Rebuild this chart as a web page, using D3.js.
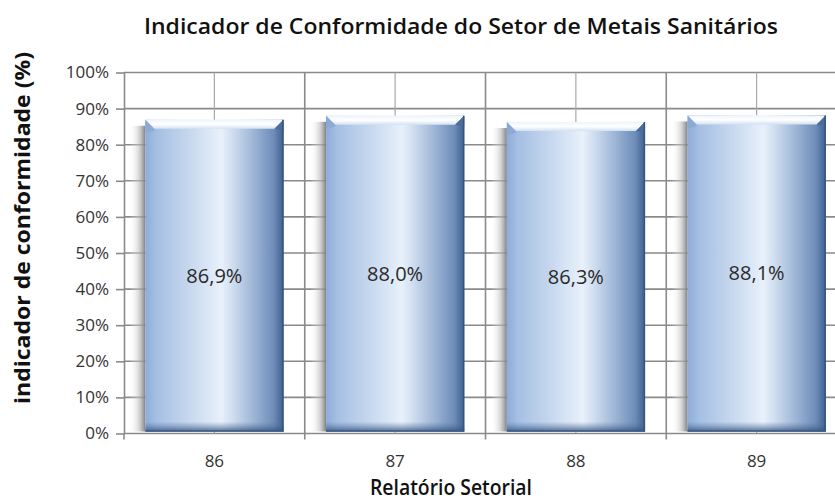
<!DOCTYPE html>
<html><head><meta charset="utf-8">
<script src="https://cdn.jsdelivr.net/npm/d3@7"></script>
<style>body{margin:0;background:#fff}svg{display:block}</style>
</head><body>
<svg id="chart" width="835" height="500"></svg>
<script>
const categories = ["86", "87", "88", "89"];
const values = [0.869, 0.880, 0.863, 0.881];
const valueLabels = ["86,9%", "88,0%", "86,3%", "88,1%"];
const yTicks = [0, 0.1, 0.2, 0.3, 0.4, 0.5, 0.6, 0.7, 0.8, 0.9, 1.0];
const titleText = "Indicador de Conformidade do Setor de Metais Sanitários";
const yTitle = "indicador de conformidade (%)";
const xTitle = "Relatório Setorial";

const svg = d3.select("#chart");
const W = 835, H = 500;
const m = {left:124, top:72.5, bottom:433.5};
const plotRight = 847;

const x = d3.scaleBand().domain(categories).range([m.left, plotRight]).paddingInner(0.236).paddingOuter(0.118);
const y = d3.scaleLinear().domain([0,1]).range([m.bottom, m.top]);
const step = x.step();

const defs = svg.append("defs");
const g1 = defs.append("linearGradient").attr("id","barGrad").attr("x1","0").attr("x2","1").attr("y1","0").attr("y2","0");
[[0,"#8eacd8"],[0.08,"#a5bfe3"],[0.35,"#cbdbf0"],[0.55,"#e8f1fb"],[0.62,"#d3e0f1"],[0.8,"#98b1d3"],[0.93,"#6d8cb8"],[1,"#3f5f8d"]]
  .forEach(([o,c])=>g1.append("stop").attr("offset",o).attr("stop-color",c));
const gTop = defs.append("linearGradient").attr("id","topGrad").attr("x1","0").attr("x2","0").attr("y1","0").attr("y2","1");
[[0,"#eef4fb"],[0.5,"#ffffff"],[1,"#d3e1f2"]].forEach(([o,c])=>gTop.append("stop").attr("offset",o).attr("stop-color",c));
const gShadow = defs.append("linearGradient").attr("id","shadowGrad").attr("x1","0").attr("x2","1").attr("y1","0").attr("y2","0");
[[0,"#ffffff",0],[0.6,"#bdbdbd",0.6],[1,"#7a7a7a",0.95]].forEach(([o,c,a])=>gShadow.append("stop").attr("offset",o).attr("stop-color",c).attr("stop-opacity",a));
const gBottom = defs.append("linearGradient").attr("id","botGrad").attr("x1","0").attr("x2","0").attr("y1","0").attr("y2","1");
[[0,"#5b7aa6",0],[1,"#2f4d78",0.8]].forEach(([o,c,a])=>gBottom.append("stop").attr("offset",o).attr("stop-color",c).attr("stop-opacity",a));

// gridlines
const grid = svg.append("g");
grid.selectAll("line.h").data(yTicks.slice(1)).join("line")
  .attr("x1", m.left).attr("x2", W).attr("y1", d=>y(d)).attr("y2", d=>y(d))
  .attr("stroke","#8a8a8a").attr("stroke-width",1.6);
const bounds = categories.map((c,i)=>m.left + i*step).concat([m.left+categories.length*step]);
grid.selectAll("line.vb").data(bounds.slice(1)).join("line")
  .attr("x1", d=>d).attr("x2", d=>d).attr("y1", m.top).attr("y2", m.bottom)
  .attr("stroke","#8a8a8a").attr("stroke-width",1.6);
grid.selectAll("line.vc").data(categories).join("line")
  .attr("x1", d=>x(d)+x.bandwidth()/2).attr("x2", d=>x(d)+x.bandwidth()/2).attr("y1", m.top).attr("y2", m.bottom)
  .attr("stroke","#a8a8a8").attr("stroke-width",1.2);

// bars
const bars = svg.append("g").selectAll("g").data(categories).join("g");
bars.each(function(c,i){
  const gb = d3.select(this);
  const x0 = x(c), bw = x.bandwidth(), yt = y(values[i]), yb = y(0) - 2;
  gb.append("rect").attr("x", x0-16).attr("y", yt+6).attr("width",16).attr("height", yb-yt-6).attr("fill","url(#shadowGrad)");
  gb.append("rect").attr("x", x0).attr("y", yt).attr("width", bw).attr("height", yb-yt).attr("fill","url(#barGrad)");
  gb.append("rect").attr("x", x0).attr("y", yb-10).attr("width", bw).attr("height", 10).attr("fill","url(#botGrad)");
  const bev = 9;
  gb.append("path").attr("d", `M${x0},${yt} L${x0+bw},${yt} L${x0+bw-bev},${yt+bev} L${x0+bev},${yt+bev} Z`).attr("fill","url(#topGrad)");
  gb.append("path").attr("d", `M${x0},${yt} L${x0+bev},${yt+bev} L${x0+bev},${yt+bev+2} L${x0},${yt+bev+4} Z`).attr("fill","#8aa8d2").attr("opacity",0.8);
  gb.append("path").attr("d", `M${x0+bw},${yt} L${x0+bw-bev},${yt+bev} L${x0+bw},${yt+bev+2} Z`).attr("fill","#4c6d9b");
  gb.append("line").attr("x1", x0+bw-0.5).attr("x2", x0+bw-0.5).attr("y1", yt).attr("y2", yb).attr("stroke","#34557f").attr("stroke-width",1.5);
  gb.append("line").attr("x1", x0).attr("x2", x0+bw).attr("y1", yb-0.5).attr("y2", yb-0.5).attr("stroke","#3d5a85").attr("stroke-width",1.5);
  gb.append("text").attr("x", x0+bw/2).attr("y", (yt+yb)/2).attr("dy","0.35em")
    .attr("text-anchor","middle").attr("font-family","'Open Sans', sans-serif").attr("font-size",20)
    .attr("fill","#2a2a2a").text(valueLabels[i]);
});

// y axis
const yAxis = svg.append("g").attr("transform",`translate(${m.left},0)`)
  .call(d3.axisLeft(y).tickValues(yTicks).tickFormat(d=>Math.round(d*100)+"%").tickSize(8).tickSizeOuter(0));
yAxis.select(".domain").attr("stroke","#8a8a8a").attr("stroke-width",1.6);
yAxis.selectAll(".tick line").attr("stroke","#8a8a8a").attr("stroke-width",1.6);
yAxis.selectAll(".tick text").attr("font-family","'Open Sans', sans-serif").attr("font-size",17).attr("fill","#333").attr("x",-15);

// x axis
const xAxisG = svg.append("g").attr("transform",`translate(0,${m.bottom})`);
xAxisG.append("line").attr("x1", m.left).attr("x2", W).attr("y1",0).attr("y2",0).attr("stroke","#8a8a8a").attr("stroke-width",1.6);
xAxisG.selectAll("line.t").data(bounds).join("line").attr("x1",d=>d).attr("x2",d=>d).attr("y1",0).attr("y2",6).attr("stroke","#8a8a8a").attr("stroke-width",1.6);
xAxisG.selectAll("text").data(categories).join("text")
  .attr("x", d=>x(d)+x.bandwidth()/2).attr("y", 33).attr("text-anchor","middle")
  .attr("font-family","'Open Sans', sans-serif").attr("font-size",17).attr("fill","#333").text(d=>d);

// titles
svg.append("text").attr("x", 144).attr("y", 34).attr("text-anchor","start")
  .attr("font-family","'Open Sans', sans-serif").attr("font-weight",600).attr("font-size",21)
  .attr("textLength",634).attr("lengthAdjust","spacingAndGlyphs").attr("fill","#111").text(titleText);
svg.append("text").attr("transform","translate(30,228) rotate(-90)").attr("text-anchor","middle")
  .attr("font-family","'Open Sans', sans-serif").attr("font-weight",700).attr("font-size",21)
  .attr("textLength",352).attr("lengthAdjust","spacingAndGlyphs").attr("fill","#111").text(yTitle);
svg.append("text").attr("x", 370).attr("y", 495).attr("text-anchor","start")
  .attr("font-family","'Open Sans', sans-serif").attr("font-weight",600).attr("font-size",21)
  .attr("textLength",162).attr("lengthAdjust","spacingAndGlyphs").attr("fill","#111").text(xTitle);
</script>
</body></html>
